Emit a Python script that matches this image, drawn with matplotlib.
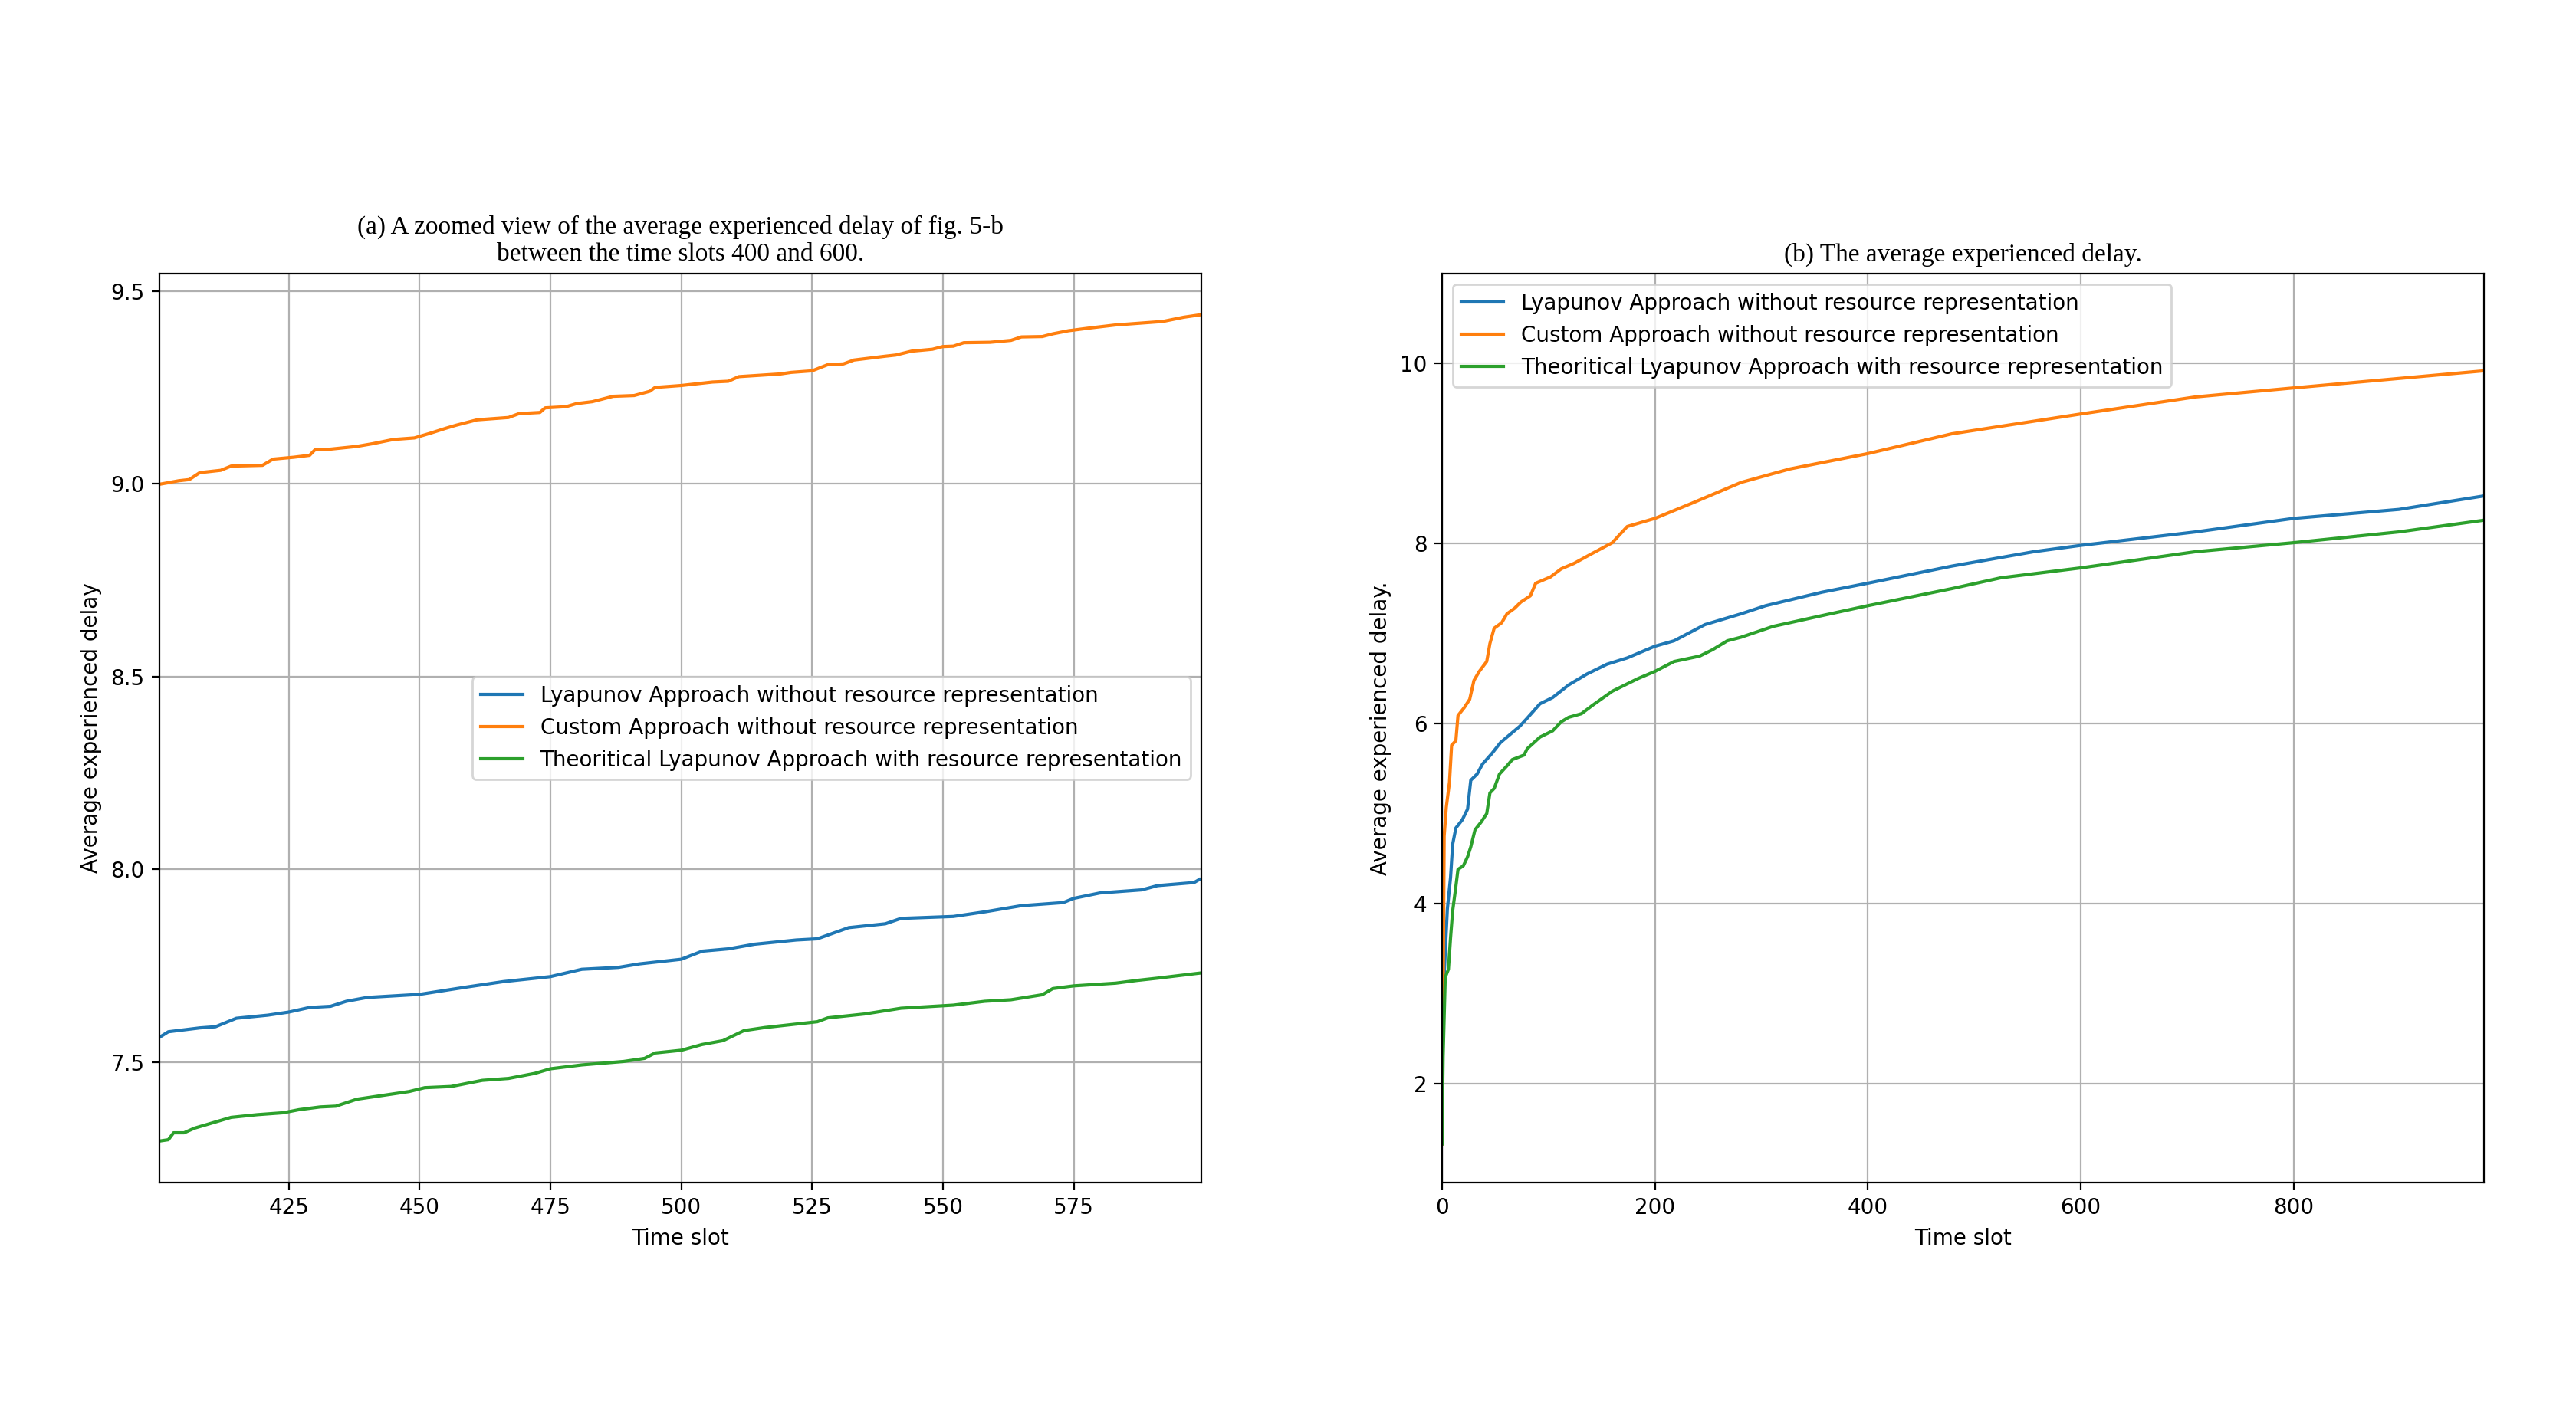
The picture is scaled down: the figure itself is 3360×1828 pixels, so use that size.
import matplotlib
matplotlib.use("Agg")
import matplotlib.pyplot as plt

labels = ['Lyapunov Approach without resource representation',
          'Custom Approach without resource representation',
          'Theoritical Lyapunov Approach with resource representation']

# (a) zoomed view, slots 400-599
zoom_x_blue = [400, 402, 408, 411, 415, 421, 425, 429, 433, 436, 440, 450, 459, 466, 475, 481,
               488, 492, 500, 504, 509, 514, 522, 526, 532, 539, 542, 552, 558, 565, 573, 575,
               580, 588, 591, 598, 599]
zoom_blue = [7.562, 7.579, 7.589, 7.592, 7.614, 7.622, 7.630, 7.642, 7.645, 7.658, 7.668, 7.676,
             7.695, 7.709, 7.722, 7.741, 7.746, 7.755, 7.767, 7.788, 7.794, 7.806, 7.817, 7.820,
             7.849, 7.859, 7.873, 7.878, 7.890, 7.906, 7.914, 7.925, 7.939, 7.947, 7.958, 7.966,
             7.974]

zoom_x_orange = [400, 404, 406, 408, 412, 414, 420, 422, 426, 429, 430, 433, 438, 441, 445, 449,
                 452, 455, 457, 461, 467, 469, 473, 474, 478, 480, 483, 487, 491, 494, 495, 500,
                 506, 509, 511, 519, 521, 525, 528, 531, 533, 539, 541, 544, 548, 550, 552, 554,
                 559, 563, 565, 569, 571, 574, 578, 583, 588, 592, 596, 599]
zoom_orange = [8.998, 9.008, 9.011, 9.029, 9.035, 9.046, 9.048, 9.064, 9.069, 9.074, 9.088, 9.090,
               9.097, 9.104, 9.115, 9.119, 9.131, 9.144, 9.152, 9.166, 9.172, 9.182, 9.185, 9.197,
               9.200, 9.208, 9.213, 9.227, 9.229, 9.240, 9.250, 9.255, 9.264, 9.266, 9.278, 9.285,
               9.289, 9.293, 9.309, 9.311, 9.321, 9.331, 9.334, 9.344, 9.349, 9.356, 9.357, 9.366,
               9.367, 9.372, 9.381, 9.382, 9.389, 9.397, 9.404, 9.412, 9.417, 9.421, 9.432, 9.438]

zoom_x_green = [400, 402, 403, 405, 407, 410, 414, 419, 424, 427, 431, 434, 438, 443, 448, 451,
                456, 462, 467, 472, 475, 481, 489, 493, 495, 500, 504, 508, 512, 516, 522, 526,
                528, 535, 542, 552, 558, 563, 569, 571, 575, 583, 587, 591, 599]
zoom_green = [7.295, 7.299, 7.317, 7.317, 7.329, 7.341, 7.357, 7.364, 7.369, 7.377, 7.384, 7.386,
              7.404, 7.414, 7.424, 7.434, 7.437, 7.453, 7.458, 7.471, 7.483, 7.493, 7.502, 7.510,
              7.524, 7.531, 7.546, 7.556, 7.582, 7.590, 7.599, 7.605, 7.615, 7.625, 7.640, 7.648,
              7.658, 7.662, 7.675, 7.691, 7.698, 7.705, 7.712, 7.718, 7.731]

# (b) full run, slots 0-979
full_x_blue = [0, 1, 3, 5, 8, 10, 13, 19, 24, 27, 33, 38, 47, 55, 64, 73, 80, 92, 104, 119, 136,
               155, 174, 200, 218, 247, 281, 304, 357, 400, 479, 556, 600, 708, 800, 899, 979]
full_blue = [1.33, 2.95, 3.46, 3.94, 4.29, 4.66, 4.84, 4.93, 5.05, 5.37, 5.44, 5.55, 5.67, 5.79,
             5.88, 5.97, 6.06, 6.22, 6.29, 6.43, 6.55, 6.66, 6.73, 6.86, 6.92, 7.10, 7.22, 7.31,
             7.46, 7.56, 7.75, 7.91, 7.98, 8.13, 8.28, 8.38, 8.53]

full_x_orange = [0, 1, 2, 4, 7, 9, 13, 15, 21, 26, 30, 35, 42, 45, 49, 56, 61, 68, 74, 83, 88, 102,
                 112, 124, 141, 160, 174, 200, 235, 281, 327, 400, 479, 600, 708, 800, 979]
full_orange = [1.33, 2.95, 4.75, 5.07, 5.35, 5.76, 5.81, 6.09, 6.18, 6.27, 6.48, 6.58, 6.69, 6.89,
               7.06, 7.12, 7.22, 7.28, 7.35, 7.42, 7.56, 7.63, 7.72, 7.78, 7.89, 8.01, 8.19, 8.28,
               8.45, 8.68, 8.83, 9.00, 9.22, 9.44, 9.63, 9.73, 9.92]

full_x_green = [0, 1, 3, 6, 8, 10, 13, 15, 20, 24, 27, 31, 37, 42, 45, 49, 54, 61, 66, 77, 80, 92,
                104, 112, 119, 131, 141, 160, 184, 200, 218, 242, 254, 268, 281, 311, 357, 400,
                479, 525, 600, 708, 800, 899, 979]
full_green = [1.33, 2.30, 3.18, 3.27, 3.62, 3.92, 4.19, 4.38, 4.42, 4.52, 4.63, 4.82, 4.91, 5.00,
              5.23, 5.28, 5.44, 5.53, 5.60, 5.65, 5.72, 5.85, 5.92, 6.02, 6.07, 6.11, 6.20, 6.36,
              6.50, 6.58, 6.69, 6.75, 6.82, 6.92, 6.96, 7.08, 7.20, 7.31, 7.50, 7.62, 7.73, 7.91,
              8.01, 8.13, 8.26]

fig = plt.figure(figsize=(16.8, 9.14), dpi=200)
ax1 = fig.add_axes([0.0619, 0.1559, 0.4045, 0.6488])
ax2 = fig.add_axes([0.5598, 0.1559, 0.4045, 0.6488])

ax1.plot(zoom_x_blue, zoom_blue, label=labels[0])
ax1.plot(zoom_x_orange, zoom_orange, label=labels[1])
ax1.plot(zoom_x_green, zoom_green, label=labels[2])
ax1.set_xlim(400.3, 599.4)
ax1.set_xticks([425, 450, 475, 500, 525, 550, 575])
ax1.set_yticks([7.5, 8.0, 8.5, 9.0, 9.5])
ax1.grid(True)
ax1.legend(loc='center right')
ax1.set_xlabel('Time slot')
ax1.set_ylabel('Average experienced delay')
ax1.set_title('(a) A zoomed view of the average experienced delay of fig. 5-b\n'
              'between the time slots 400 and 600.', family='Liberation Serif', fontsize=12)

ax2.plot(full_x_blue, full_blue, label=labels[0])
ax2.plot(full_x_orange, full_orange, label=labels[1])
ax2.plot(full_x_green, full_green, label=labels[2])
ax2.set_xlim(0, 979)
ax2.set_ylim(0.9, 11.0)
ax2.set_xticks([0, 200, 400, 600, 800])
ax2.set_yticks([2, 4, 6, 8, 10])
ax2.grid(True)
ax2.legend(loc='upper left')
ax2.set_xlabel('Time slot')
ax2.set_ylabel('Average experienced delay.')
ax2.set_title('(b) The average experienced delay.', family='Liberation Serif', fontsize=12)

fig.savefig('out.png', dpi=200)
